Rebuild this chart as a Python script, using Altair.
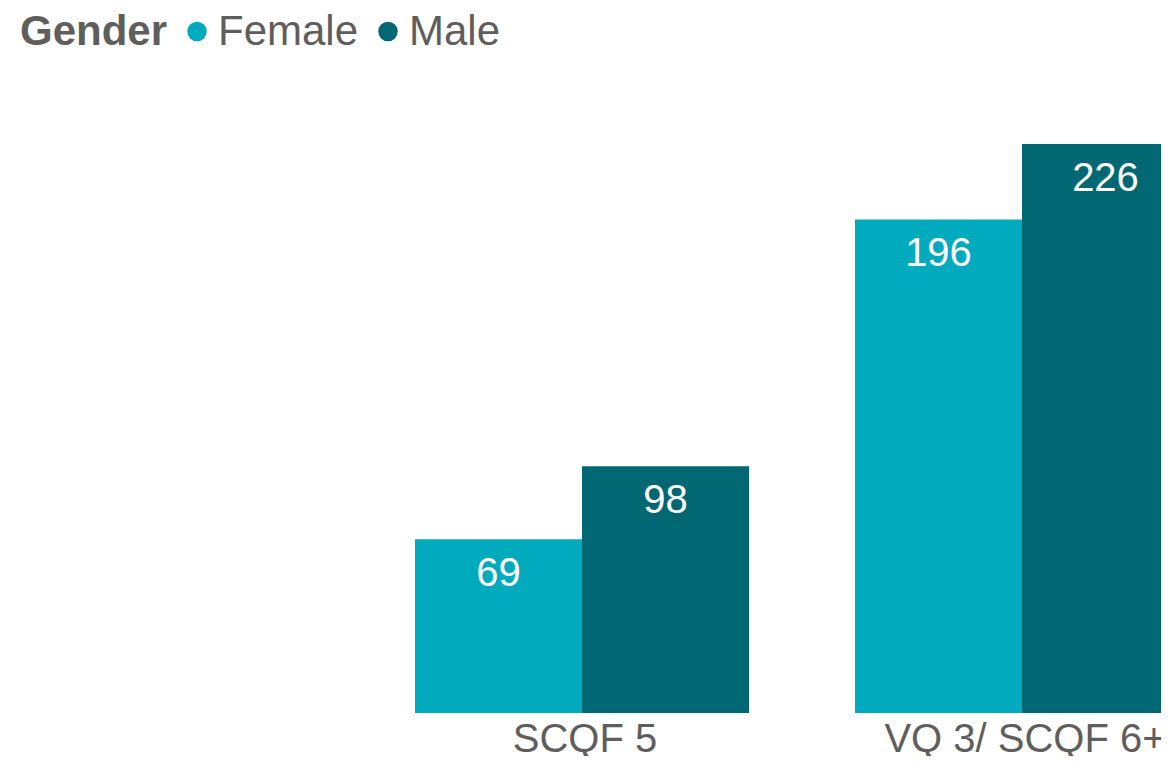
import altair as alt
import pandas as pd

# ---- data ----
categories = ["SCQF 5", "SCQF 5", "VQ 3/ SCQF 6+", "VQ 3/ SCQF 6+"]
genders = ["Female", "Male", "Female", "Male"]
values = [69, 98, 196, 226]

category_domain = ["SCQF 5", "VQ 3/ SCQF 6+"]
gender_domain = ["Female", "Male"]
gender_colors = ["#01ABBD", "#016773"]

df = pd.DataFrame({"Qualification": categories, "Gender": genders, "Count": values})

FONT = "Liberation Sans"
GREY = "#605E5C"
W = 1153
H = 629.5
TOP = 75.5
BOTTOM = 43

x = alt.X(
    "Qualification:N",
    sort=category_domain,
    scale=alt.Scale(domain=category_domain, range=[407, 1181],
                    paddingInner=106 / 440, paddingOuter=0),
    axis=alt.Axis(title=None, ticks=False, tickSize=0, domain=False, grid=False,
                  labelAngle=0, labelFont=FONT, labelFontSize=40, labelColor=GREY,
                  labelBaseline="alphabetic", labelPadding=38, labelOffset=3,
                  labelLimit=0),
)
xo = alt.XOffset("Gender:N", scale=alt.Scale(domain=gender_domain, paddingInner=0, paddingOuter=0))
y = alt.Y("Count:Q", scale=alt.Scale(domain=[0, 250], nice=False), axis=None)

bars = alt.Chart(df).mark_bar(clip=True).encode(
    x=x, xOffset=xo, y=y,
    color=alt.Color(
        "Gender:N",
        scale=alt.Scale(domain=gender_domain, range=gender_colors),
        legend=alt.Legend(
            title="Gender", orient="none", legendX=12, legendY=-73,
            direction="horizontal", titleOrient="left",
            titleFont=FONT, titleFontSize=42, titleFontWeight="bold", titleColor=GREY,
            titlePadding=8, titleBaseline="middle",
            labelFont=FONT, labelFontSize=42, labelColor=GREY, labelOffset=0,
            symbolType="circle", symbolSize=380, symbolStrokeWidth=0,
            symbolOpacity=1, columnPadding=8, padding=0,
        ),
    ),
)

labels = alt.Chart(df).mark_text(
    clip=True, dy=47, baseline="alphabetic", align="center",
    font=FONT, fontSize=40, color="white",
).encode(x=x, xOffset=xo, y=y, text=alt.Text("Count:Q"))

chart = alt.layer(bars, labels).properties(
    width=W, height=H,
    autosize=alt.AutoSizeParams(type="none"),
    padding={"left": 0, "top": TOP, "right": 0, "bottom": BOTTOM},
    background="white",
).configure_view(stroke=None)

chart.save("out.html", embed_options={"renderer": "svg", "actions": False})
